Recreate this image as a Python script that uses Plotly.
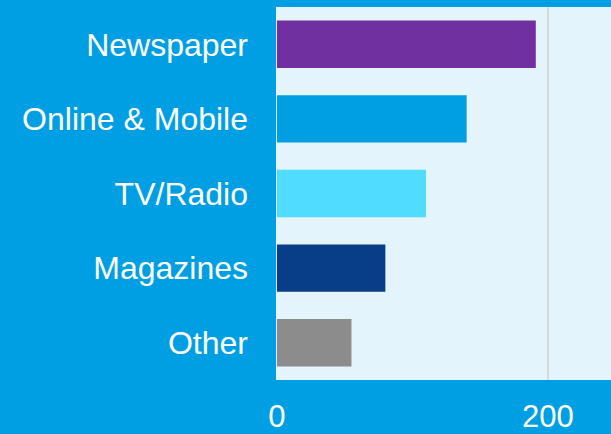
import plotly.graph_objects as go

# Spend by media channel
categories = ["Newspaper", "Online & Mobile", "TV/Radio", "Magazines", "Other"]
values = [191, 140, 110, 80, 55]
bar_colors = ["#7030A0", "#009FE3", "#50DCFF", "#073E87", "#8C8C8C"]
tick_values = [0, 200]
tick_labels = ["0", "200"]

fig = go.Figure(
    go.Bar(
        x=values,
        y=categories,
        orientation="h",
        marker=dict(color=bar_colors, line=dict(width=0)),
    )
)

fig.update_layout(
    width=611,
    height=434,
    margin=dict(l=276, r=0, t=7, b=52),
    paper_bgcolor="#009FE3",
    plot_bgcolor="#E3F4FC",
    bargap=0.365,
    showlegend=False,
    font=dict(family="Liberation Sans, Arial, sans-serif", size=30, color="white"),
)

fig.update_xaxes(
    range=[-0.7, 246.5],
    tickvals=tick_values,
    ticktext=tick_labels,
    showgrid=True,
    gridcolor="#D9D9D9",
    gridwidth=2,
    zeroline=False,
    showline=False,
    ticks="",
    ticklabelstandoff=15,
    tickfont=dict(size=31, color="white"),
)

fig.update_yaxes(
    categoryorder="array",
    categoryarray=categories[::-1],
    showgrid=False,
    zeroline=False,
    showline=False,
    ticks="",
    ticklabelstandoff=27,
    tickfont=dict(size=32, color="white"),
)

fig.write_html("out.html")
